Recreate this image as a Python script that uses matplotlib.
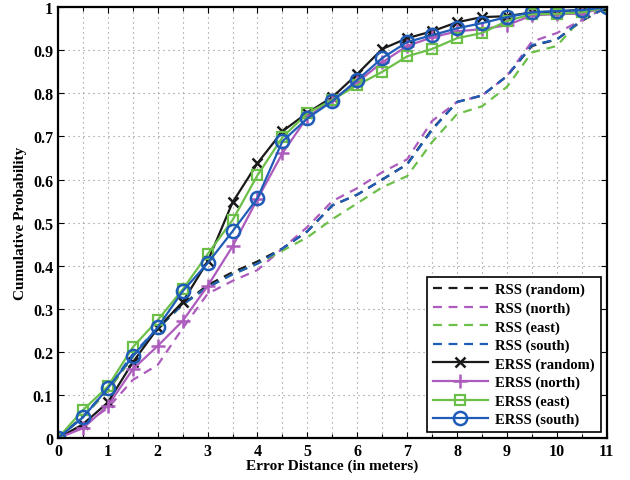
import numpy as np
import matplotlib
matplotlib.use("Agg")
import matplotlib.pyplot as plt
from matplotlib.ticker import MultipleLocator, FormatStrFormatter

plt.rcParams["font.family"] = ["Liberation Serif", "DejaVu Serif"]
plt.rcParams["font.weight"] = "bold"

dist = np.arange(0, 11.01, 0.5)

rss_random = [0, 0.05, 0.11, 0.19, 0.255, 0.31, 0.355, 0.385, 0.41, 0.44, 0.48, 0.54,
              0.565, 0.60, 0.636, 0.717, 0.78, 0.795, 0.84, 0.91, 0.925, 0.968, 1.0]
rss_north = [0, 0.03, 0.07, 0.135, 0.17, 0.255, 0.335, 0.365, 0.39, 0.44, 0.49, 0.55,
             0.58, 0.617, 0.647, 0.736, 0.78, 0.795, 0.84, 0.92, 0.94, 0.97, 1.0]
rss_east = [0, 0.05, 0.11, 0.19, 0.255, 0.31, 0.35, 0.38, 0.405, 0.435, 0.466, 0.508,
            0.545, 0.582, 0.608, 0.687, 0.752, 0.77, 0.815, 0.895, 0.91, 0.975, 1.0]
rss_south = [0, 0.05, 0.115, 0.195, 0.255, 0.31, 0.35, 0.38, 0.405, 0.44, 0.48, 0.54,
             0.565, 0.60, 0.635, 0.715, 0.78, 0.795, 0.84, 0.912, 0.925, 0.97, 1.0]

erss_random = [0, 0.032, 0.083, 0.176, 0.255, 0.316, 0.41, 0.547, 0.638, 0.712, 0.755, 0.791,
               0.845, 0.903, 0.928, 0.944, 0.965, 0.977, 0.979, 0.988, 0.99, 0.994, 1.0]
erss_north = [0, 0.023, 0.075, 0.16, 0.214, 0.272, 0.353, 0.445, 0.555, 0.661, 0.745, 0.785,
              0.826, 0.872, 0.91, 0.93, 0.944, 0.949, 0.958, 0.981, 0.984, 0.985, 1.0]
erss_east = [0, 0.065, 0.12, 0.211, 0.274, 0.345, 0.427, 0.506, 0.61, 0.698, 0.754, 0.785,
             0.819, 0.85, 0.886, 0.903, 0.928, 0.94, 0.968, 0.984, 0.984, 0.988, 1.0]
erss_south = [0, 0.048, 0.116, 0.19, 0.257, 0.341, 0.406, 0.48, 0.557, 0.689, 0.742, 0.782,
              0.831, 0.882, 0.919, 0.935, 0.951, 0.963, 0.977, 0.988, 0.991, 0.993, 1.0]

BLACK, MAGENTA, GREEN, BLUE = "#1a1a1a", "#ad5bbd", "#6cc04a", "#1f5cb8"

fig = plt.figure(figsize=(6.3, 4.81), dpi=100)
ax = fig.add_axes([0.092, 0.087, 0.871, 0.896])

lw = 1.6
ax.plot(dist, rss_random, "--", color=BLACK, lw=lw, dashes=(4, 3), label="RSS (random)")
ax.plot(dist, rss_north, "--", color=MAGENTA, lw=lw, dashes=(4, 3), label="RSS (north)")
ax.plot(dist, rss_east, "--", color=GREEN, lw=lw, dashes=(4, 3), label="RSS (east)")
ax.plot(dist, rss_south, "--", color=BLUE, lw=lw, dashes=(4, 3), label="RSS (south)")

ax.plot(dist, erss_random, "-", color=BLACK, lw=lw, marker="x", ms=7, mew=1.8, label="ERSS (random)")
ax.plot(dist, erss_north, "-", color=MAGENTA, lw=lw, marker="+", ms=10, mew=1.8, label="ERSS (north)")
ax.plot(dist, erss_east, "-", color=GREEN, lw=lw, marker="s", ms=7.5, mew=1.6, mfc="none", label="ERSS (east)")
ax.plot(dist, erss_south, "-", color=BLUE, lw=lw, marker="o", ms=9.5, mew=1.8, mfc="none", label="ERSS (south)")

ax.set_xlim(0, 11)
ax.set_ylim(0, 1)
ax.xaxis.set_major_locator(MultipleLocator(1))
ax.xaxis.set_minor_locator(MultipleLocator(0.5))
ax.yaxis.set_major_locator(MultipleLocator(0.1))
ax.yaxis.set_major_formatter(FormatStrFormatter("%g"))
ax.tick_params(which="both", direction="in", top=True, right=True, labelsize=11.5, width=0.8)
ax.tick_params(which="major", length=4)
ax.tick_params(which="minor", length=3)
ax.grid(which="both", axis="x", linestyle=(0, (1, 3.5)), color="0.55", lw=0.8)
ax.grid(which="major", axis="y", linestyle=(0, (1, 3.5)), color="0.55", lw=0.8)
for s in ax.spines.values():
    s.set_linewidth(1.6)

ax.set_xlabel("Error Distance (in meters)", fontsize=11, fontweight="bold")
ax.set_ylabel("Cumulative Probability", fontsize=11, fontweight="bold")
ax.xaxis.set_label_coords(0.5, -0.047)
ax.yaxis.set_label_coords(-0.057, 0.5)

leg = ax.legend(loc="lower right", fontsize=10.5, handlelength=3.8, fancybox=False,
                edgecolor="black", framealpha=1, borderaxespad=0.4, labelspacing=0.35,
                handletextpad=0.5, borderpad=0.4)
leg.get_frame().set_linewidth(1.2)

fig.savefig("out.png", dpi=100)
